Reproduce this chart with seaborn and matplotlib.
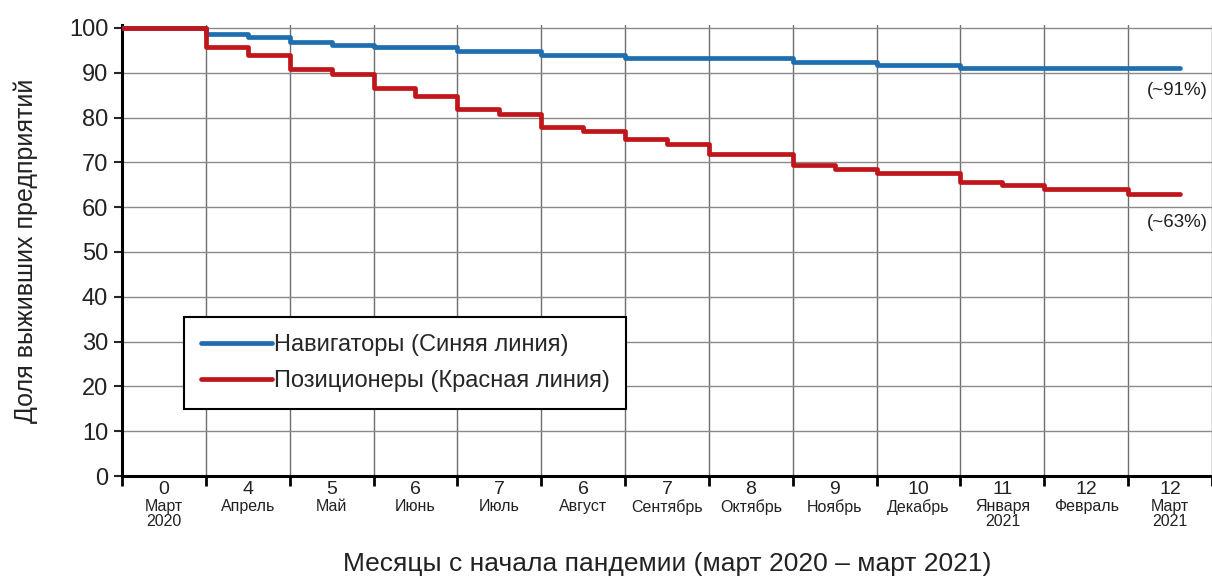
import matplotlib
matplotlib.use('Agg')
import matplotlib.pyplot as plt
import seaborn as sns
import pandas as pd
import numpy as np

# data
blue_x = [0, 1, 1.5, 2, 2.5, 3, 4, 5, 6, 8, 9, 10, 12.62]
blue_y = [100, 98.7, 97.9, 96.8, 96.2, 95.7, 94.8, 93.9, 93.2, 92.4, 91.7, 91.0, 91.0]
red_x = [0, 1, 1.5, 2, 2.5, 3, 3.5, 4, 4.5, 5, 5.5, 6, 6.5, 7, 8, 8.5, 9, 10, 10.5, 11, 12, 12.62]
red_y = [100, 95.7, 94.0, 90.9, 89.8, 86.5, 84.8, 82.0, 80.7, 77.8, 76.9, 75.2, 74.1,
         71.8, 69.4, 68.6, 67.6, 65.6, 64.9, 64.1, 62.9, 62.9]
series_names = ['Навигаторы (Синяя линия)', 'Позиционеры (Красная линия)']
series_colors = ['#1f6fb0', '#c0161b']

month_nums = ['0', '4', '5', '6', '7', '6', '7', '8', '9', '10', '11', '12', '12']
month_names = ['Март\n2020', 'Апрель', 'Май', 'Июнь', 'Июль', 'Август', 'Сентябрь',
               'Октябрь', 'Ноябрь', 'Декабрь', 'Января\n2021', 'Февраль', 'Март\n2021']
end_labels = ['(~91%)', '(~63%)']
end_label_y = [86, 56.5]

sns.set_style('ticks')
plt.rcParams['font.family'] = ['Liberation Sans Narrow', 'Liberation Sans', 'DejaVu Sans']

df = pd.concat([
    pd.DataFrame({'x': blue_x, 'y': blue_y, 'group': series_names[0]}),
    pd.DataFrame({'x': red_x, 'y': red_y, 'group': series_names[1]}),
])

fig = plt.figure(figsize=(12.12, 5.87), dpi=100)
ax = fig.add_axes([0.1007, 0.189, 0.8993, 0.768])

sns.lineplot(data=df, x='x', y='y', hue='group', palette=series_colors,
             estimator=None, drawstyle='steps-post', linewidth=3.4, ax=ax,
             zorder=3)

ax.set_xlim(0, 13)
ax.set_ylim(0, 100.6)

#grid
for k in range(1, 14):
    ax.axvline(k, color='#6e6e6e', lw=1.0, zorder=1)
for v in range(10, 101, 10):
    ax.axhline(v, color='#8a8a8a', lw=1.0, zorder=1)

ax.set_xticks(range(0, 14))
ax.set_xticklabels([])
ax.set_yticks(range(0, 101, 10))
ax.tick_params(axis='x', direction='out', length=7, width=2, color='black')
ax.tick_params(axis='y', direction='out', length=6, width=1.5, labelsize=17, pad=4,
               labelcolor='#222222')

for side in ['top', 'right']:
    ax.spines[side].set_visible(False)
for side in ['left', 'bottom']:
    ax.spines[side].set_linewidth(2.2)
    ax.spines[side].set_color('black')

# interval labels under the axis
trans = ax.get_xaxis_transform()
for i in range(len(month_nums)):
    ax.text(i + 0.5, -0.01, month_nums[i], transform=trans, ha='center', va='top',
            fontsize=14, color='#222222')
    ax.text(i + 0.5, -0.052, month_names[i], transform=trans, ha='center', va='top',
            fontsize=11.5, linespacing=1.0, color='#222222')

ax.set_xlabel('Месяцы с начала пандемии (март 2020 – март 2021)', fontsize=19,
              labelpad=44, color='#222222')
ax.set_ylabel('Доля выживших предприятий', fontsize=18, labelpad=22, color='#222222')

for lab, yy in zip(end_labels, end_label_y):
    ax.text(12.22, yy, lab, fontsize=13.5, va='center', ha='left', clip_on=False,
            color='#222222')

leg = ax.legend(loc='upper left', bbox_to_anchor=(0.057, 0.352), borderaxespad=0,
                fontsize=17, frameon=True, fancybox=False, handlelength=3.0,
                handletextpad=0.1, borderpad=0.7, labelspacing=0.6, title=None)
leg.get_frame().set_edgecolor('black')
leg.get_frame().set_linewidth(1.5)
leg.get_frame().set_alpha(1)

fig.savefig('out.png', dpi=100)
